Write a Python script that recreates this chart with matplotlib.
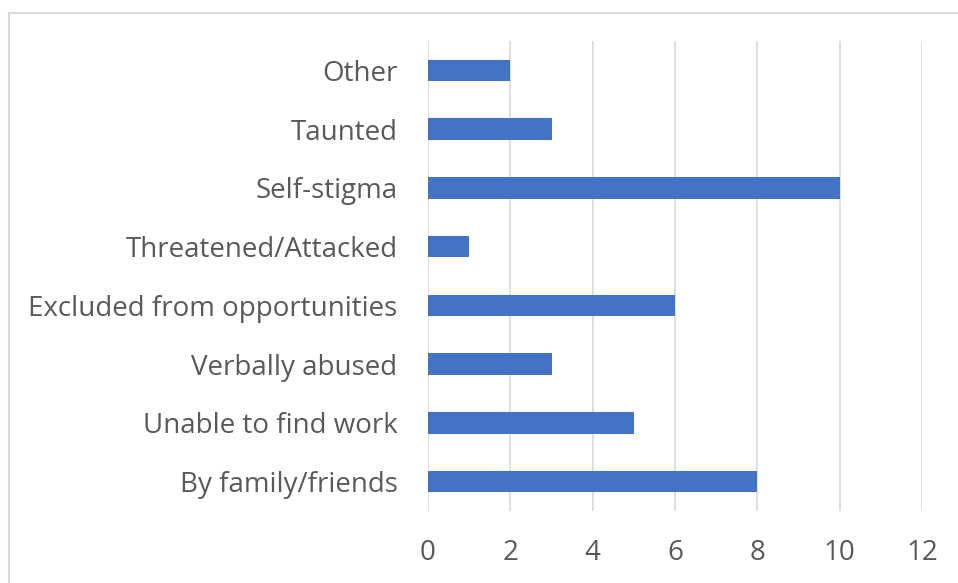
import matplotlib
matplotlib.use("Agg")
import matplotlib.pyplot as plt
from matplotlib.patches import Rectangle

categories = ["By family/friends", "Unable to find work", "Verbally abused",
              "Excluded from opportunities", "Threatened/Attacked", "Self-stigma",
              "Taunted", "Other"]
values = [8, 5, 3, 6, 1, 10, 3, 2]
xticks = [0, 2, 4, 6, 8, 10, 12]

plt.rcParams['font.family'] = ['Open Sans', 'DejaVu Sans']

fig = plt.figure(figsize=(9.58, 5.83), dpi=100)
ax = fig.add_axes([428/958, 1-511/583, (922-428)/958, (511-41)/583])

fig.patches.append(Rectangle((9/958, -0.1), 1.2, 1.1 - 13/583 + 0.0,
                             transform=fig.transFigure, fill=False,
                             edgecolor='#d9d9d9', linewidth=1.5, zorder=0))

ax.barh(range(len(categories)), values, height=0.37, color='#4472c4', zorder=3)
ax.set_ylim(-0.5, len(categories) - 0.5)
ax.set_xlim(0, 12)
ax.set_xticks(xticks)
ax.set_xticklabels([str(t) for t in xticks])
ax.set_yticks(range(len(categories)))
ax.set_yticklabels(categories)
ax.grid(axis='x', color='#d9d9d9', linewidth=1.2, zorder=0)
for s in ax.spines.values():
    s.set_visible(False)
ax.tick_params(axis='both', length=0, labelcolor='#595959')
ax.tick_params(axis='y', labelsize=20, pad=22)
ax.tick_params(axis='x', labelsize=20, pad=20)

fig.savefig("out.png", dpi=100)
